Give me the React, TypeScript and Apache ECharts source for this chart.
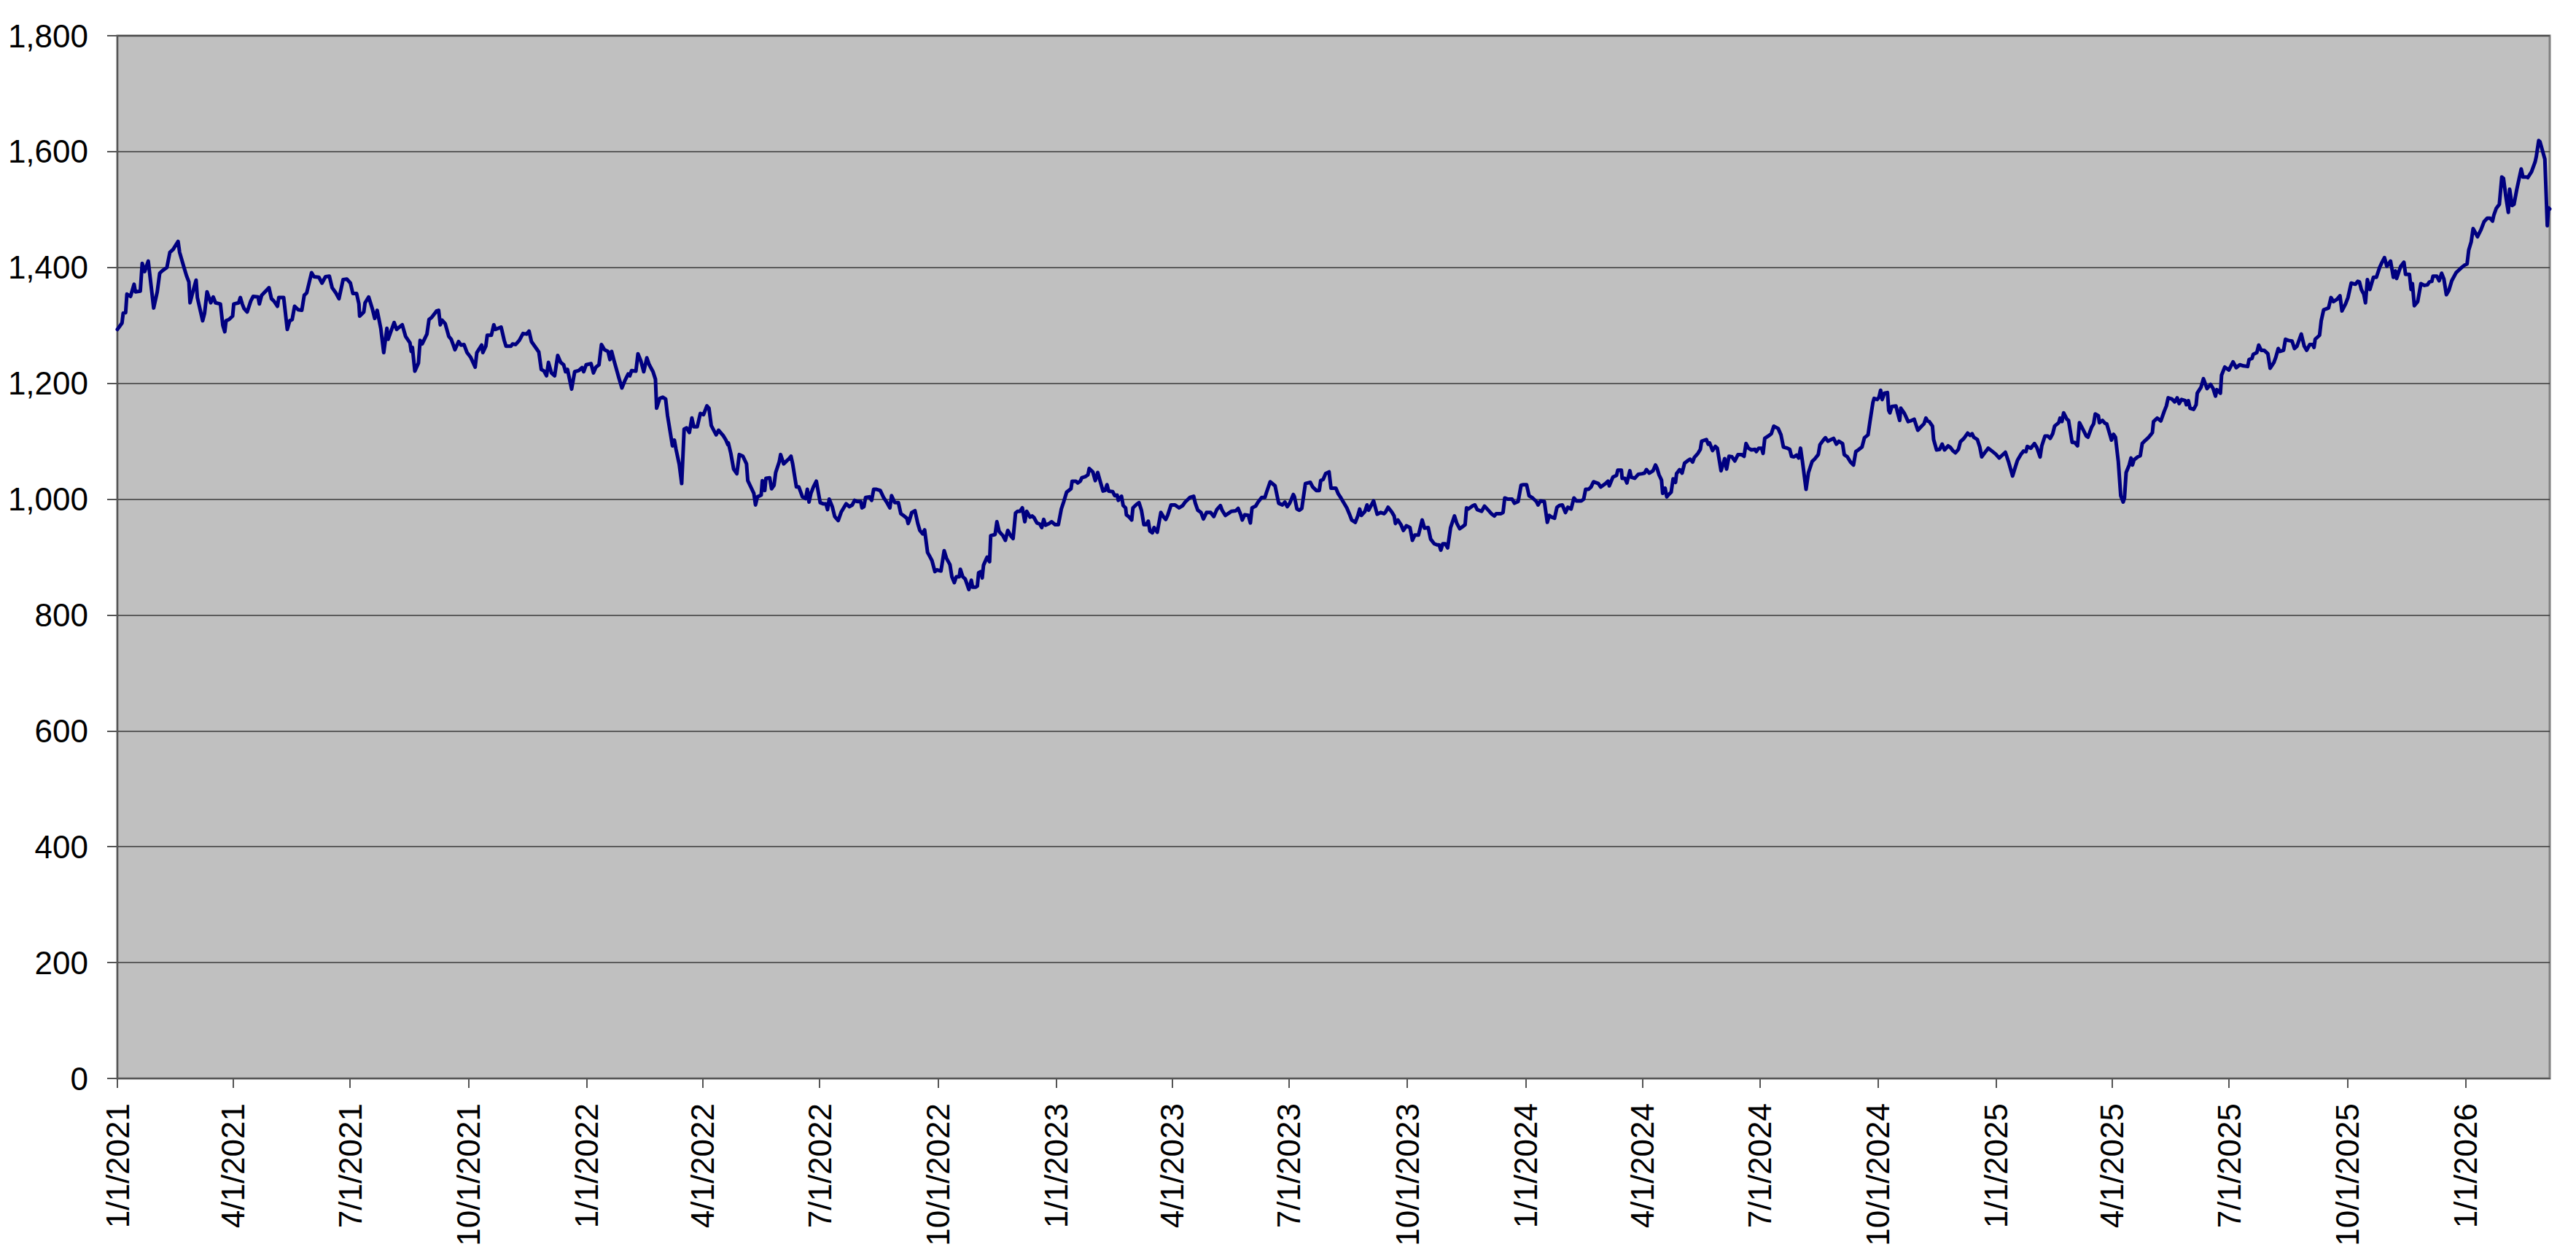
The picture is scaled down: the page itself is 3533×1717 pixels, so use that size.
import React, { useEffect, useRef } from "react";
import * as echarts from "echarts";

// Days since 1/1/2021 and index level
const points: [number, number][] = [
  [0,1293],[3.6,1304],[4.5,1321],[6.4,1322],[7.4,1354],[10.2,1350],[13,1371],[14,1358],[17.8,1359],[19.3,1407],[21.2,1393],[24,1411],[28.2,1330],[31,1358],[32.9,1390],[34.8,1394],[38.5,1400],[40.8,1426],[43.3,1431],[47.2,1445],[48.4,1426],[51.8,1400],[53.7,1386],[55.6,1375],[56.5,1339],[59.3,1363],[61.2,1378],[62.2,1348],[66.3,1308],[67.8,1321],[69.7,1358],[72.6,1339],[74.5,1349],[76.3,1339],[80.1,1337],[82,1300],[83.5,1289],[84.5,1308],[86.7,1310],[89.6,1316],[90.5,1337],[94.3,1339],[95.6,1348],[97.1,1337],[98.5,1329],[100.9,1323],[103.7,1342],[105.6,1350],[109.4,1349],[110.4,1337],[112.2,1352],[117.9,1365],[119.8,1346],[121.7,1342],[124.5,1333],[125.5,1348],[129.3,1348],[132.1,1293],[134,1308],[135.9,1310],[137.8,1333],[140.6,1327],[143.4,1326],[145.3,1352],[147.2,1356],[151,1391],[152.9,1384],[156.7,1383],[159.1,1373],[161.8,1384],[164.8,1385],[167,1365],[169.9,1356],[172.3,1346],[175.5,1379],[178.4,1380],[181.2,1373],[183.1,1355],[186,1355],[187.8,1337],[188.4,1316],[191.6,1323],[192.6,1339],[195.4,1349],[198.2,1329],[200.1,1312],[202,1326],[204.8,1295],[207.1,1253],[209.6,1295],[210.5,1276],[215.2,1305],[217.1,1293],[221.5,1301],[224.1,1281],[227.5,1270],[228.5,1255],[229.4,1262],[231.3,1221],[234.1,1235],[235.4,1274],
  [237.0,1268],[240.7,1285],[242.3,1310],[244.5,1314],[248.3,1325],[249.8,1326],[251.1,1301],[252.5,1309],[254.9,1303],[257.7,1281],[259.6,1276],[262.5,1258],[265.3,1272],[267.2,1266],[269.5,1267],[271.9,1253],[274.7,1245],[278.2,1228],[279.5,1253],[283.3,1266],[284.2,1253],[286.5,1264],[287.6,1283],[290.8,1283],[292.7,1301],[294.0,1293],[298.4,1297],[300.8,1274],[302.2,1264],[306.0,1264],[307.3,1268],[309.7,1267],[312.5,1274],[315.4,1286],[318.2,1285],[320.1,1290],[322.0,1272],[325.8,1260],[327.7,1254],[329.6,1224],[331.8,1221],[333.7,1213],[335.2,1236],[337.5,1218],[340.0,1213],[342.4,1248],[344.7,1236],[347.0,1232],[348.5,1220],[350.0,1224],[353.2,1190],[355.6,1220],[358.8,1222],[361.3,1227],[362.6,1220],[364.5,1232],[368.3,1234],[370.2,1218],[372.1,1228],[374.5,1232],[376.4,1267],[378.7,1258],[381.5,1255],[383.0,1241],[384.3,1255],[386.2,1239],[390.0,1209],[392.3,1192],[394.7,1205],[397.2,1216],[398.5,1213],[399.8,1222],[403.2,1221],[404.8,1251],[407.0,1239],[409.3,1220],[411.7,1244],[413.6,1232],[416.5,1220],[418.4,1207],[419.3,1157],[421.8,1174],[424.0,1176],[426.3,1173],[427.8,1144],[430.6,1106],[431.6,1092],[433.1,1102],[434.4,1086],[436.9,1060],[438.8,1027],[440.7,1121],[442.6,1123],[444.8,1115],[446.7,1140],[448.2,1125],[450.9,1125],[453.3,1148],[455.8,1146],[458.4,1161],[460.0,1157],[461.8,1127],[465.6,1111],[467.5,1119],[471.3,1109],[473.2,1102],[474.7,1094],
  [475.1,1097],[477.0,1079],[479.2,1052],[481.7,1044],[483.6,1077],[486.4,1074],[489.2,1061],[490.2,1032],[493.0,1019],[494.9,1010],[496.2,990],[497.7,1004],[500.6,1007],[501.5,1032],[503.4,1015],[504.3,1036],[507.2,1037],[508.7,1018],[510.6,1024],[511.9,1046],[514.7,1065],[515.7,1077],[518.1,1061],[520.4,1066],[522.3,1070],[523.8,1074],[525.1,1061],[528.0,1021],[529.9,1021],[532.7,1004],[535.2,1001],[536.5,1017],[537.8,995],[539.3,1010],[541.2,1021],[543.5,1031],[546.5,994],[548.8,992],[551.0,992],[552.2,982],[553.5,1000],[555.9,987],[557.8,970],[560.5,963],[562.9,978],[566.7,992],[569.2,987],[571.4,990],[573.3,998],[575.2,996],[578.0,996],[579.0,985],[580.5,987],[581.8,1003],[584.7,1004],[586.5,998],[588.1,1017],[590.3,1017],[593.2,1015],[596.0,1002],[597.9,996],[600.7,985],[602.0,1006],[604.5,994],[607.3,994],[609.2,975],[611.1,972],[613.9,967],[614.9,958],[615.8,963],[617.7,977],[620.2,980],[622.4,958],[624.0,946],[626.2,940],[627.7,947],[630.0,908],[631.5,902],[633.4,894],[635.7,875],[637.2,878],[640.4,876],[642.9,911],[644.7,898],[647.4,887],[648.9,866],[650.8,856],[652.3,866],[654.6,866],[655.5,879],[657.4,866],[659.3,862],[662.1,844],[664.0,860],[665.0,848],[667.4,848],[668.7,850],[669.7,873],[671.6,875],[672.5,864],[673.5,886],[676.3,900],[678.2,892],[679.1,937],[682.5,939],[683.9,961],[685.7,944],[688.6,937],[690.5,929],[692.4,946],[694.6,937],[696.5,932],[698.4,976],[699.9,979],[701.8,979],[703.7,985],[705.6,961],[707.1,979],[709.7,969],[711.3,971],[712.8,968],
  [715.0,959],[717.3,957],[718.8,951],[720.3,965],[721.7,955],[724.5,958],[726.4,961],[729.2,956],[731.7,956],[734.0,983],[735.8,995],[738.1,1012],[741.5,1018],[742.4,1031],[745.3,1031],[746.8,1028],[748.7,1031],[750.0,1037],[752.8,1039],[754.7,1042],[755.7,1053],[758.5,1047],[760.4,1032],[762.3,1046],[764.2,1031],[766.4,1014],[768.0,1015],[769.5,1025],[770.8,1014],[774.0,1013],[775.5,1006],[777.4,1007],[778.3,998],[780.8,1005],[782.1,989],[784.0,985],[784.6,973],[786.8,969],[788.7,964],[789.7,985],[792.5,991],[794.4,994],[796.3,981],[798.2,956],[800.1,956],[801.6,962],[802.9,945],[804.8,942],[806.1,951],[808.6,943],[811.4,977],[813.3,970],[815.2,965],[816.7,972],[819.3,990],[822.4,990],[825.6,985],[828.4,989],[830.3,995],[834.1,1003],[836.9,1005],[838.2,993],[840.1,981],[842.6,977],[844.5,966],[846.9,977],[850.1,977],[852.6,970],[854.9,982],[857.7,989],[859.0,981],[861.5,972],[864.3,976],[866.2,979],[869.6,980],[871.5,984],[873.4,974],[874.7,964],[876.6,973],[879.4,972],[881.0,959],[882.3,985],[885.1,988],[887.0,995],[889.8,1003],[892.3,1003],[893.6,1012],[896.4,1030],[900.2,1023],[903.0,993],[905.9,990],[907.8,995],[909.7,987],[911.6,993],[914.4,1008],[915.3,1004],[917.2,983],[919.1,981],[921.0,984],[923.8,1027],[927.6,1029],[929.5,1021],[932.3,1015],[934.6,1015],[935.7,1032],[937.6,1034],[939.5,1044],[942.2,1047],[943.7,1019],[947.5,1019],[949.4,1009],[950.9,1004],
  [952.8,997],[956.0,985],[957.9,975],[959.8,964],[962.6,960],[964.5,971],[966.0,983],[967.3,972],[970.1,979],[971.7,990],[973.0,981],[976.8,997],[979.6,974],[982.4,977],[984.9,975],[986.2,978],[988.1,986],[990.9,978],[992.8,971],[993.8,958],[995.7,964],[998.1,956],[1000.0,946],[1002.3,954],[1005.1,951],[1007.0,929],[1008.9,938],[1011.7,938],[1014.6,964],[1016.4,950],[1019.3,951],[1021.2,931],[1024.0,923],[1026.5,921],[1027.8,921],[1029.1,912],[1030.6,923],[1032.5,923],[1034.4,916],[1036.7,951],[1039.7,971],[1041.6,958],[1043.8,949],[1045.7,952],[1048.0,956],[1049.1,985],[1050.5,983],[1054.2,989],[1055.6,990],[1057.4,982],[1060.8,979],[1063.1,988],[1065.6,982],[1068.4,975],[1070.7,971],[1072.2,975],[1075.9,975],[1077.5,977],[1078.8,1002],[1081.3,1000],[1084.5,1000],[1086.4,993],[1089.2,996],[1091.5,1024],[1093.3,1025],[1095.8,1025],[1097.7,1006],[1100.5,1002],[1103.4,996],[1104.7,990],[1106.6,997],[1109.6,996],[1111.9,960],[1113.4,972],[1115.3,969],[1117.5,967],[1119.4,986],[1121.3,989],[1123.6,990],[1126.0,977],[1127.9,986],[1130.4,983],[1132.6,1002],[1134.5,997],[1138.3,997],[1140.2,1000],[1141.7,1017],[1144.0,1017],[1145.9,1021],[1147.8,1030],[1151.6,1027],[1153.4,1021],[1155.3,1024],[1157.2,1027],[1159.1,1031],[1160.1,1023],[1162.9,1038],[1165.7,1041],[1166.7,1050],[1169.5,1050],[1170.1,1036],[1172.3,1036],[1173.8,1028],[1176.1,1049],[1177.1,1038],[1179.9,1036],[1182.7,1043],[1185.6,1044],[1187.5,1045],[1189.0,1051],
  [1191.2,1045],[1194.1,1049],[1196.0,1059],[1197.3,1053],[1198.8,1042],[1200.7,1033],[1201.6,1010],[1203.5,1019],[1204.8,1004],[1206.3,1008],[1208.2,1012],[1209.7,1035],[1211.6,1029],[1212.4,1044],[1214.8,1051],[1216.7,1045],[1218.6,1062],[1221.5,1067],[1223.0,1069],[1224.9,1064],[1226.2,1072],[1229.0,1079],[1230.9,1086],[1231.9,1100],[1235.6,1103],[1237.0,1095],[1238.1,1097],[1240.4,1084],[1242.6,1091],[1244.1,1088],[1247.0,1049],[1248.9,1063],[1249.8,1070],[1251.3,1052],[1253.2,1074],[1255.5,1073],[1257.7,1066],[1260.2,1077],[1263.0,1077],[1264.9,1074],[1266.4,1096],[1268.3,1088],[1270.6,1085],[1273.4,1086],[1274.4,1082],[1276.3,1088],[1278.5,1088],[1279.7,1079],[1281.0,1105],[1283.8,1109],[1286.1,1113],[1288.0,1126],[1291.4,1122],[1293.6,1111],[1295.5,1090],[1298.6,1088],[1300.4,1086],[1301.8,1074],[1303.7,1073],[1305.6,1076],[1307.4,1071],[1308.8,1088],[1310.3,1065],[1313.1,1017],[1315.0,1046],[1317.8,1065],[1319.7,1069],[1322.6,1077],[1323.9,1094],[1326.9,1103],[1328.2,1106],[1330.1,1100],[1332.6,1103],[1334.5,1105],[1336.7,1095],[1338.6,1100],[1341.5,1096],[1342.8,1077],[1345.2,1073],[1347.7,1064],[1350.0,1059],[1351.8,1082],[1353.7,1085],[1356.6,1090],[1358.5,1106],[1361.3,1111],[1362.8,1134],[1365.1,1167],[1366.0,1174],[1368.5,1172],[1369.8,1176],[1371.1,1188],[1372.3,1172],[1374.1,1183],[1376.4,1184],[1377.4,1153],[1378.3,1149],[1379.8,1160],[1383.0,1161],[1384.3,1149],[1385.9,1136],[1386.8,1157],[1389.6,1148],[1392.5,1134],[1395.3,1136],[1397.2,1138],[1400.0,1119],[1402.9,1126],[1404.8,1130],[1406.3,1140],[1407.6,1135],[1408.9,1134],[1411.4,1126],[1412.3,1103],[1414.6,1085],[1417.0,1086],[1418.9,1095],[1420.8,1085],[1423.6,1092],[1425.5,1089],[1427.1,1084],
  [1429.3,1080],[1431.6,1086],[1433.1,1099],[1435.9,1105],[1438.8,1114],[1440.7,1110],[1442.2,1113],[1443.5,1107],[1446.3,1103],[1448.2,1090],[1449.7,1073],[1452.0,1080],[1454.8,1088],[1457.7,1083],[1460.5,1078],[1463.3,1071],[1465.2,1075],[1468.1,1081],[1470.5,1065],[1473.7,1040],[1475.6,1054],[1477.5,1067],[1480.4,1078],[1482.2,1083],[1484.1,1082],[1485.1,1091],[1487.9,1088],[1490.7,1096],[1492.6,1089],[1495.1,1073],[1496.4,1092],[1498.9,1109],[1501.1,1109],[1503.0,1105],[1504.9,1113],[1506.4,1126],[1509.6,1132],[1510.6,1140],[1512.1,1134],[1513.4,1149],[1515.9,1138],[1517.2,1136],[1518.1,1124],[1520.0,1098],[1521.9,1098],[1524.2,1092],[1525.7,1132],[1528.5,1120],[1531.0,1109],[1532.3,1107],[1535.1,1124],[1536.7,1130],[1538.0,1147],[1540.4,1144],[1541.2,1132],[1543.6,1136],[1545.5,1131],[1546.9,1130],[1549.3,1112],[1550.6,1102],[1552.2,1112],[1553.7,1107],[1555.9,1065],[1557.8,1006],[1559.7,995],[1560.7,1002],[1562.0,1046],[1564.4,1059],[1565.8,1071],[1566.9,1059],[1568.2,1068],[1571.1,1073],[1573.0,1075],[1574.5,1096],[1576.7,1101],[1579.6,1107],[1581.4,1112],[1582.4,1115],[1583.3,1134],[1586.2,1140],[1589.0,1135],[1591.5,1151],[1593.3,1161],[1594.7,1175],[1597.5,1173],[1599.8,1168],[1601.7,1175],[1603.2,1165],[1605.1,1172],[1607.9,1170],[1608.8,1163],[1610.4,1170],[1611.7,1157],[1614.5,1155],[1616.4,1163],[1617.3,1183],[1620.2,1193],[1622.1,1208],[1624.9,1191],[1627.7,1198],[1629.6,1191],[1631.5,1178],[1632.5,1189],[1635.3,1183],[1636.2,1214],[1638.7,1228],[1641.9,1223],[1645.1,1237],[1647.6,1227],[1650.4,1232],[1653.3,1230],[1656.5,1229],[1657.6,1241],[1659.9,1243],[1660.8,1250],[1663.6,1253],[1665.1,1266],
  [1667.0,1257],[1669.3,1257],[1672.2,1251],[1674.0,1226],[1676.9,1236],[1678.4,1245],[1680.3,1260],[1681.6,1255],[1684.4,1257],[1685.9,1276],[1688.2,1274],[1691.0,1273],[1692.9,1260],[1694.8,1264],[1698.2,1285],[1700.5,1264],[1702.4,1257],[1704.8,1267],[1707.1,1267],[1708.1,1262],[1709.0,1276],[1712.4,1283],[1713.7,1308],[1715.6,1327],[1719.4,1330],[1721.3,1348],[1723.2,1341],[1726.0,1345],[1728.3,1351],[1729.8,1325],[1732.6,1337],[1734.5,1348],[1737.0,1373],[1740.2,1371],[1742.1,1376],[1743.4,1375],[1744.9,1362],[1746.8,1354],[1748.1,1339],[1749.6,1379],[1751.5,1362],[1754.3,1383],[1756.6,1383],[1759.1,1400],[1761.0,1409],[1762.9,1417],[1764.7,1402],[1767.6,1411],[1769.8,1383],[1771.4,1394],[1772.3,1381],[1775.5,1402],[1778.0,1409],[1779.3,1388],[1782.3,1388],[1783.6,1362],[1784.6,1372],[1786.1,1334],[1788.7,1341],[1791.2,1372],[1794.0,1369],[1796.3,1370],[1797.8,1375],[1799.7,1376],[1800.6,1385],[1803.5,1385],[1805.4,1377],[1807.3,1390],[1809.1,1380],[1811.0,1353],[1812.9,1360],[1815.2,1377],[1818.6,1391],[1820.5,1395],[1822.4,1399],[1825.2,1404],[1827.1,1406],[1828.4,1430],[1830.3,1444],[1831.8,1467],[1833.3,1461],[1835.2,1453],[1837.9,1465],[1840.3,1479],[1842.8,1485],[1845.0,1485],[1846.9,1480],[1847.9,1490],[1849.8,1502],[1852.2,1509],[1854.1,1556],[1855.4,1554],[1857.3,1522],[1859.2,1495],[1860.2,1535],[1862.1,1507],[1863.6,1509],[1865.8,1535],[1869.2,1570],[1870.6,1556],[1873.4,1556],[1874.3,1555],[1877.2,1565],[1880.0,1582],[1880.9,1591],[1882.8,1619],[1883.8,1617],[1887.6,1587],[1888.1,1556],[1889.5,1472],[1890.4,1503],[1891.4,1501],
];

const tickLabels = [
  "1/1/2021","4/1/2021","7/1/2021","10/1/2021",
  "1/1/2022","4/1/2022","7/1/2022","10/1/2022",
  "1/1/2023","4/1/2023","7/1/2023","10/1/2023",
  "1/1/2024","4/1/2024","7/1/2024","10/1/2024",
  "1/1/2025","4/1/2025","7/1/2025","10/1/2025",
  "1/1/2026",
];

const yTicks = { min: 0, max: 1800, interval: 200 };

const START = Date.UTC(2021, 0, 1);
const DAY = 86400000;
const labelToDay = (s: string) => {
  const [m, d, y] = s.split("/").map(Number);
  return Math.round((Date.UTC(y, m - 1, d) - START) / DAY);
};
const tickDays = tickLabels.map(labelToDay);
const dayToLabel: Record<number, string> = {};
tickLabels.forEach((l, i) => (dayToLabel[tickDays[i]] = l));

const FONT = "'Liberation Sans', Arial, sans-serif";

export default function App() {
  const ref = useRef<HTMLDivElement>(null);
  useEffect(() => {
    if (!ref.current) return;
    const chart = echarts.init(ref.current, undefined, { renderer: "svg" });
    const lastDay = points[points.length - 1][0];
    chart.setOption({
      animation: false,
      backgroundColor: "#ffffff",
      grid: {
        left: 161,
        top: 49,
        width: 3336,
        height: 1430,
        show: true,
        backgroundColor: "#C0C0C0",
        borderColor: "#808080",
        borderWidth: 3,
        containLabel: false,
        outerBoundsMode: "none",
      },
      xAxis: {
        type: "value",
        min: 0,
        max: lastDay,
        splitLine: { show: false },
        axisLine: { show: true, onZero: false, lineStyle: { color: "#555555", width: 2 } },
        axisTick: {
          show: true,
          inside: false,
          length: 13,
          customValues: tickDays,
          lineStyle: { color: "#555555", width: 2 },
        },
        axisLabel: {
          show: true,
          customValues: tickDays,
          rotate: 90,
          margin: 34,
          color: "#000000",
          fontFamily: FONT,
          fontSize: 44,
          formatter: (v: number) => dayToLabel[Math.round(v)] ?? "",
          showMinLabel: true,
          showMaxLabel: true,
        },
      },
      yAxis: {
        type: "value",
        min: yTicks.min,
        max: yTicks.max,
        interval: yTicks.interval,
        axisLine: { show: true, lineStyle: { color: "#555555", width: 2 } },
        axisTick: { show: true, inside: false, length: 14, lineStyle: { color: "#555555", width: 2 } },
        splitLine: { show: true, lineStyle: { color: "#3a3a3a", width: 1.5 } },
        axisLabel: {
          margin: 40,
          color: "#000000",
          fontFamily: FONT,
          fontSize: 44,
          formatter: (v: number) => v.toLocaleString("en-US"),
        },
      },
      series: [
        {
          type: "line",
          data: points,
          showSymbol: false,
          symbol: "none",
          smooth: false,
          lineStyle: { color: "#000080", width: 5, join: "round", cap: "round" },
          itemStyle: { color: "#000080" },
          z: 5,
        },
      ],
    });
    return () => chart.dispose();
  }, []);
  return (
    <div
      ref={ref}
      style={{ position: "fixed", left: 0, top: 0, width: 3533, height: 1717, background: "#fff" }}
    />
  );
}
